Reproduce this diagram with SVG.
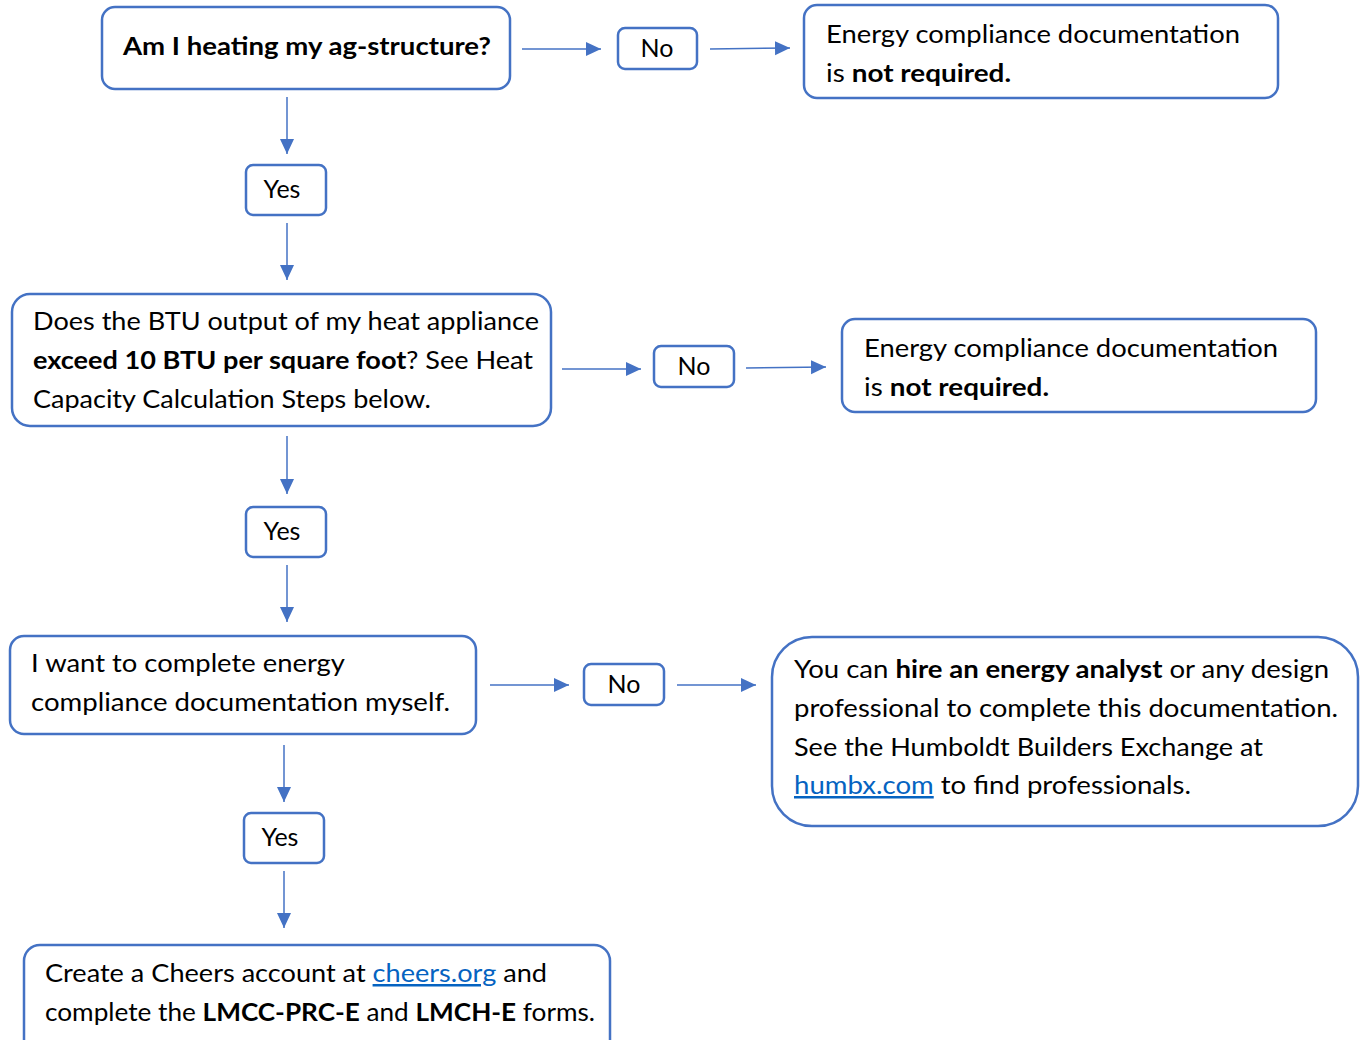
<svg xmlns="http://www.w3.org/2000/svg" width="1360" height="1040" viewBox="0 0 1360 1040">
<style>
.box{fill:#fff;stroke:#4472C4;stroke-width:2.5}
.t{font-family:Lato,"Open Sans","Liberation Sans",sans-serif;font-size:25px;fill:#000}
.b{font-weight:bold}
.c{text-anchor:middle}
.lnk{fill:#0563C1;text-decoration:underline}
.con{stroke:#4472C4;stroke-width:1.5;fill:none;marker-end:url(#ah)}
</style>
<defs>
<marker id="ah" markerUnits="userSpaceOnUse" markerWidth="16" markerHeight="16" refX="15" refY="7" orient="auto">
<path d="M0,0 L15,7 L0,14 z" fill="#4472C4"/>
</marker>
</defs>
<rect width="1360" height="1040" fill="#fff"/>
<g id="connectors">
<line class="con" x1="522" y1="49" x2="601" y2="49"/>
<line class="con" x1="710" y1="49" x2="790" y2="48"/>
<line class="con" x1="287" y1="97" x2="287" y2="154"/>
<line class="con" x1="287" y1="223" x2="287" y2="280"/>
<line class="con" x1="562" y1="369" x2="641" y2="369"/>
<line class="con" x1="746" y1="368" x2="826" y2="367"/>
<line class="con" x1="287" y1="436" x2="287" y2="494"/>
<line class="con" x1="287" y1="565" x2="287" y2="622"/>
<line class="con" x1="490" y1="685" x2="569" y2="685"/>
<line class="con" x1="677" y1="685" x2="756" y2="685"/>
<line class="con" x1="284" y1="745" x2="284" y2="802"/>
<line class="con" x1="284" y1="871" x2="284" y2="928"/>
</g>
<g id="q1">
<rect class="box" x="102" y="7" width="408" height="82" rx="13"/>
<text class="t b" x="123" y="55" textLength="368" lengthAdjust="spacingAndGlyphs">Am I heating my ag-structure?</text>
</g>
<g id="no1">
<rect class="box" x="618" y="28" width="79" height="41" rx="7"/>
<text class="t c" x="657" y="57">No</text>
</g>
<g id="r1">
<rect class="box" x="804" y="5" width="474" height="93" rx="13"/>
<text class="t" x="826" y="43" textLength="414" lengthAdjust="spacingAndGlyphs">Energy compliance documentation</text>
<text class="t" x="826" y="82" textLength="185" lengthAdjust="spacingAndGlyphs">is <tspan class="b">not required.</tspan></text>
</g>
<g id="yes1">
<rect class="box" x="246" y="165" width="80" height="50" rx="7"/>
<text class="t c" x="282" y="198">Yes</text>
</g>
<g id="q2">
<rect class="box" x="12" y="294" width="539" height="132" rx="18"/>
<text class="t" x="33" y="330" textLength="506" lengthAdjust="spacingAndGlyphs">Does the BTU output of my heat appliance</text>
<text class="t" x="33" y="369" textLength="500" lengthAdjust="spacingAndGlyphs"><tspan class="b">exceed 10 BTU per square foot</tspan>? See Heat</text>
<text class="t" x="33" y="408" textLength="398" lengthAdjust="spacingAndGlyphs">Capacity Calculation Steps below.</text>
</g>
<g id="no2">
<rect class="box" x="654" y="346" width="80" height="41" rx="7"/>
<text class="t c" x="694" y="375">No</text>
</g>
<g id="r2">
<rect class="box" x="842" y="319" width="474" height="93" rx="13"/>
<text class="t" x="864" y="357" textLength="414" lengthAdjust="spacingAndGlyphs">Energy compliance documentation</text>
<text class="t" x="864" y="396" textLength="185" lengthAdjust="spacingAndGlyphs">is <tspan class="b">not required.</tspan></text>
</g>
<g id="yes2">
<rect class="box" x="246" y="507" width="80" height="50" rx="7"/>
<text class="t c" x="282" y="540">Yes</text>
</g>
<g id="q3">
<rect class="box" x="10" y="636" width="466" height="98" rx="14"/>
<text class="t" x="31" y="672" textLength="314" lengthAdjust="spacingAndGlyphs">I want to complete energy</text>
<text class="t" x="31" y="711" textLength="419" lengthAdjust="spacingAndGlyphs">compliance documentation myself.</text>
</g>
<g id="no3">
<rect class="box" x="584" y="664" width="80" height="41" rx="7"/>
<text class="t c" x="624" y="693">No</text>
</g>
<g id="r3">
<rect class="box" x="772" y="637" width="586" height="189" rx="40"/>
<text class="t" x="794" y="678" textLength="535" lengthAdjust="spacingAndGlyphs">You can <tspan class="b">hire an energy analyst</tspan> or any design</text>
<text class="t" x="794" y="717" textLength="544" lengthAdjust="spacingAndGlyphs">professional to complete this documentation.</text>
<text class="t" x="794" y="756" textLength="469" lengthAdjust="spacingAndGlyphs">See the Humboldt Builders Exchange at</text>
<text class="t" x="794" y="794" textLength="397" lengthAdjust="spacingAndGlyphs"><tspan class="lnk">humbx.com</tspan> to find professionals.</text>
</g>
<g id="yes3">
<rect class="box" x="244" y="813" width="80" height="50" rx="7"/>
<text class="t c" x="280" y="846">Yes</text>
</g>
<g id="r4">
<rect class="box" x="24" y="945" width="586" height="115" rx="16"/>
<text class="t" x="45" y="982" textLength="502" lengthAdjust="spacingAndGlyphs">Create a Cheers account at <tspan class="lnk">cheers.org</tspan> and</text>
<text class="t" x="45" y="1021" textLength="550" lengthAdjust="spacingAndGlyphs">complete the <tspan class="b">LMCC-PRC-E</tspan> and <tspan class="b">LMCH-E</tspan> forms.</text>
</g>
</svg>
